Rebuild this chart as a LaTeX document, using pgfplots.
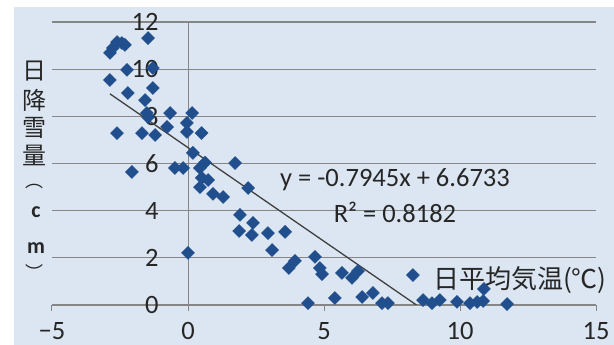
\documentclass[border=0pt]{standalone}
\usepackage{pgfplots}
\pgfplotsset{compat=1.18}
\usepackage{fontspec}
\setmainfont{Carlito}
\newfontfamily\jp{Noto Sans CJK JP}
\definecolor{bgblue}{RGB}{220,230,242}
\definecolor{gridgray}{RGB}{134,134,134}
\definecolor{mk}{RGB}{33,78,140}
\definecolor{txt}{RGB}{38,38,38}
\definecolor{trend}{RGB}{64,64,64}
\begin{document}
\begin{tikzpicture}[x=1pt,y=1pt]
\fill[white] (0,0) rectangle (614,345);
\fill[bgblue] (14,0) rectangle (614,338);
\begin{axis}[
  at={(52pt,40pt)}, anchor=south west,
  scale only axis, width=544pt, height=283pt,
  xmin=-5, xmax=15, ymin=0, ymax=12,
  axis x line*=bottom, axis y line*=center,
  hide obscured x ticks=false, hide obscured y ticks=false,
  xtick={-5,0,5,10,15}, xticklabels={−5,0,5,10,15},
  ytick={0,2,4,6,8,10,12},
  ymajorgrids, grid style={gridgray, line width=1.3pt},
  x axis line style={gridgray, line width=1.3pt},
  y axis line style={gridgray, line width=1pt},
  tick align=outside, major tick length=6pt,
  xtick style={gridgray, line width=1pt},
  ytick style={draw=none},
  tick label style={font=\fontsize{26.5}{30}\selectfont, text=txt},
  /pgf/number format/assume math mode=true,
  yticklabel style={anchor=east, xshift=-20pt},
  xticklabel style={yshift=-7.5pt},
]
\addplot[only marks, mark=square*, mark size=4.6pt, mark options={rotate=45, fill=mk, draw=mk}] coordinates {
(-2.87,10.69) (-2.76,10.90) (-2.61,11.15) (-2.43,11.11) (-2.32,11.03) (-1.47,11.32)
(-2.24,9.97) (-2.87,9.54) (-1.29,10.05) (-1.29,9.20) (-2.21,8.99) (-1.58,8.69)
(-1.51,8.14) (-0.66,8.14) (0.15,8.14) (-2.61,7.29) (-1.69,7.29) (-1.21,7.21)
(-1.47,7.97) (-0.77,7.55) (-0.04,7.72) (-0.04,7.34) (0.50,7.29) (0.18,6.45)
(-2.06,5.64) (-0.48,5.81) (-0.18,5.81) (0.44,5.81) (0.63,6.04) (0.51,5.39)
(0.74,5.30) (0.44,5.00) (1.73,6.02) (2.21,4.96) (0.92,4.71) (1.29,4.58)
(1.91,3.82) (2.39,3.48) (1.88,3.14) (2.35,2.97) (2.94,3.05) (3.57,3.10)
(3.09,2.33) (3.93,1.87) (3.71,1.57) (4.67,2.04) (4.85,1.57) (4.93,1.31)
(5.66,1.36) (6.03,1.15) (6.25,1.44) (6.40,0.34) (6.80,0.51) (7.13,0.08)
(7.35,0.08) (4.41,0.08) (5.40,0.30) (8.27,1.27) (8.64,0.21) (8.97,0.08)
(9.26,0.21) (9.89,0.13) (10.37,0.08) (10.63,0.13) (10.85,0.17) (10.88,0.68)
(11.73,0.04) (0.00,2.21)
};
\addplot[trend, line width=1.3pt] coordinates {(-2.87,8.954) (8.399,0)};
\end{axis}
\node[font=\fontsize{26.5}{30}\selectfont, text=txt] at (395,165) {y = -0.7945x + 6.6733};
\node[font=\fontsize{26.5}{30}\selectfont, text=txt] at (395,133) {R² = 0.8182};
\node[font=\jp\fontsize{26}{28}\selectfont, text=txt, anchor=west, inner sep=0pt] at (433,65) {日平均気温(℃)};
\foreach \c/\y in {日/71,降/100,雪/128,量/155}
  \node[font=\jp\fontsize{24}{28}\selectfont, text=txt, inner sep=0pt] at (34,345-\y) {\c};
\node[font=\jp\fontsize{18}{20}\selectfont, text=txt, inner sep=0pt] at (34,345-187) {︵};
\node[font=\jp\fontsize{18}{20}\selectfont, text=txt, inner sep=0pt] at (34,345-272) {︶};
\node[font=\bfseries\fontsize{22}{25}\selectfont, text=txt, inner sep=0pt] at (36,345-212) {c};
\node[font=\bfseries\fontsize{22}{25}\selectfont, text=txt, inner sep=0pt] at (36,345-248) {m};
\pgfresetboundingbox
\path (0,0) rectangle (614,345);
\end{tikzpicture}
\end{document}
